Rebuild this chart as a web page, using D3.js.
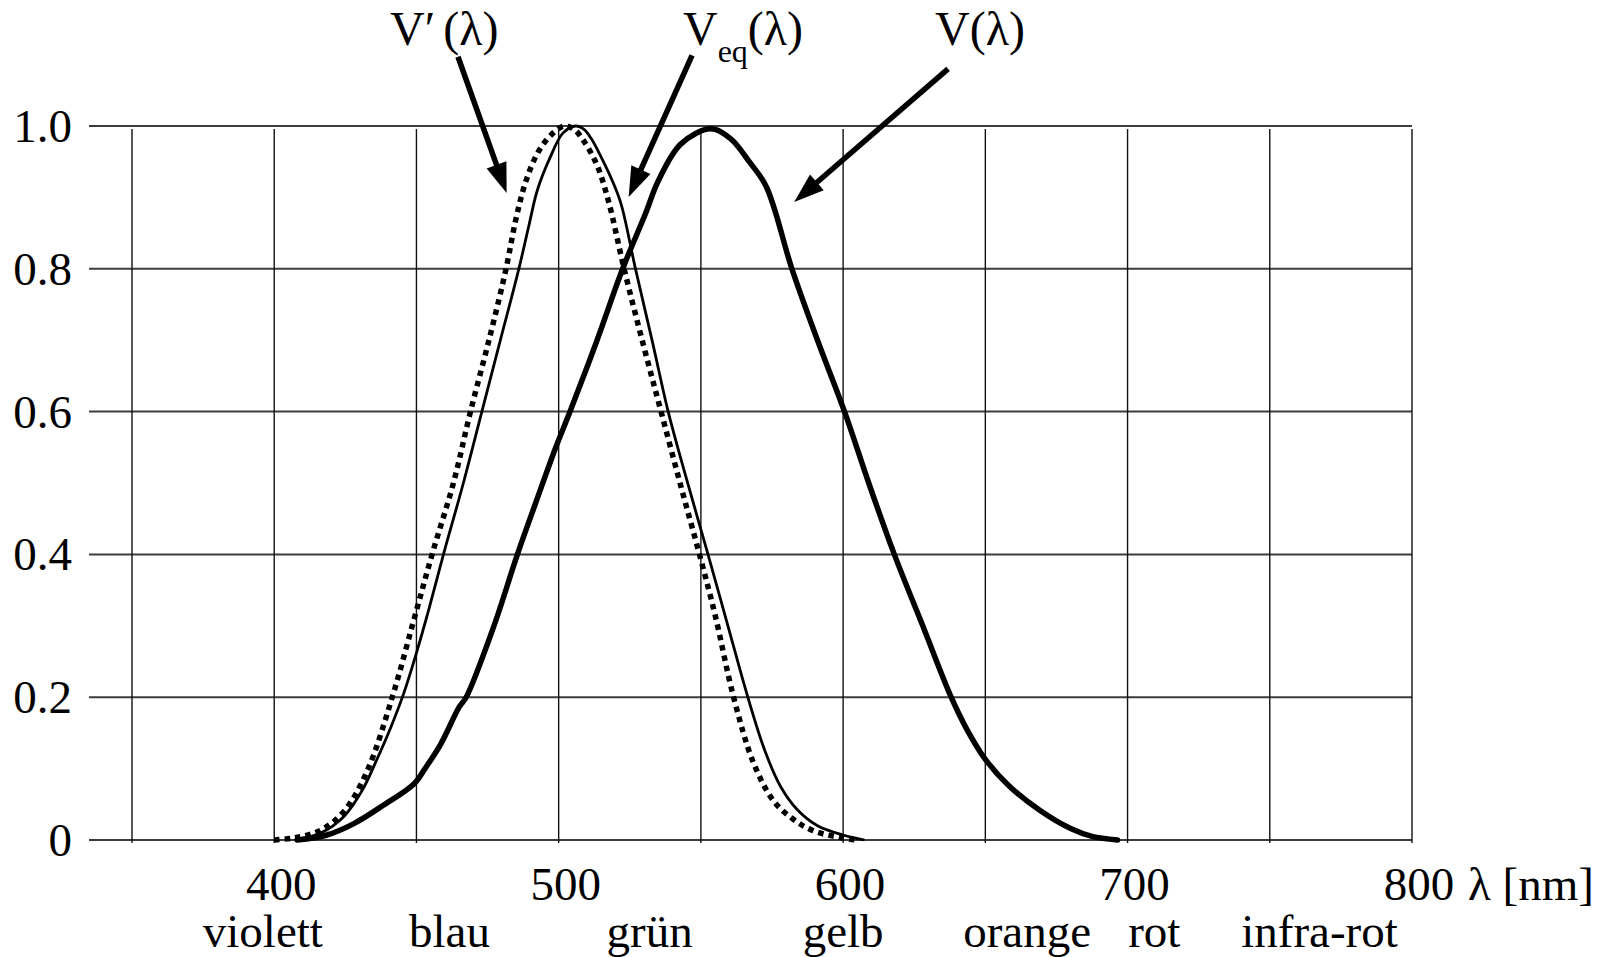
<!DOCTYPE html>
<html><head><meta charset="utf-8">
<script src="https://cdn.jsdelivr.net/npm/d3@7"></script>
<style>
html,body{margin:0;padding:0;background:#fff;}
svg{display:block;}
text{font-family:"Liberation Serif","Times New Roman",Times,serif;fill:#000;}
</style></head><body>
<svg id="chart" width="1624" height="957"></svg>
<script>
// ---- data ----
const xGridValues = [350,400,450,500,550,600,650,700,750,800];
const xTickValues = [400,500,600,700,800];
const xTickLabels = ["400","500","600","700","800"];
const yTickValues = [0,0.2,0.4,0.6,0.8,1.0];
const yTickLabels = ["0","0.2","0.4","0.6","0.8","1.0"];
const unitLabel = "λ [nm]";
const colourNames = ["violett","blau","grün","gelb","orange","rot","infra-rot"];
const colourCentres = [396,461.6,532,600,664.7,709.4,767.5];

// V'(λ) – scotopic (dotted)
const vPrimeLambda = [400,407,416,424.5,432.5,441.5,449,455.5,463,469,476,481.5,485,488.5,493,498,502,505.5,509,513.5,517.5,523,530,536,543,549.5,555,561.5,568.5,575.5,582.5,589.5,599.5,604.5];
const vPrimeValue  = [0,0.003,0.013,0.04,0.095,0.2,0.307,0.4,0.5,0.6,0.708,0.8,0.87,0.923,0.965,0.99,1.0,0.995,0.978,0.945,0.895,0.8,0.69,0.6,0.495,0.4,0.315,0.2,0.108,0.055,0.029,0.013,0.003,0];

// Veq(λ) (thin solid)
const vEqLambda = [408,416.5,424.5,431,436,441,445.5,450,454.5,459.5,466.5,473,479.5,486,489.5,492.5,497,501.5,506,509,511.5,514.5,519,522,527,533,538.5,544.5,552.5,559.5,566.5,572.5,578,584,591,600,607.5];
const vEqValue  = [0,0.01,0.033,0.07,0.112,0.158,0.205,0.262,0.325,0.4,0.5,0.6,0.7,0.8,0.86,0.91,0.956,0.99,1.0,0.995,0.982,0.96,0.922,0.89,0.8,0.697,0.6,0.512,0.4,0.3,0.2,0.125,0.075,0.042,0.02,0.007,0];

// V(λ) – photopic (thick solid)
const vLambda = [408,418.5,428,438.5,449,453,458.5,465,467.5,477,485.5,492,499,504,513.5,522.5,530.5,535,543,553.5,560.5,567,573,582,591,600.5,609,618,628,638,643.5,650,658,669,680,687.5,696.5];
const vValue  = [0,0.007,0.023,0.049,0.078,0.1,0.134,0.186,0.2,0.297,0.4,0.473,0.55,0.6,0.7,0.8,0.877,0.923,0.975,0.996,0.982,0.95,0.915,0.8,0.7,0.6,0.5,0.4,0.3,0.2,0.155,0.113,0.077,0.042,0.016,0.005,0];

// annotations (in data coordinates)
const annText     = ["V′(λ)","Veq(λ)","V(λ)"];
const annTextL    = [440.7,543.7,632.3];
const annTextV    = [1.1134,1.1134,1.1134];
const arrowTailL  = [464.6,546.9,636.9];
const arrowTailV  = [1.097,1.099,1.080];
const arrowTipL   = [481.7,524.6,582.8];
const arrowTipV   = [0.906,0.9006,0.8936];

// ---- drawing ----
const svg = d3.select("#chart");
const x = d3.scaleLinear().domain([350,800]).range([132,1412]);
const y = d3.scaleLinear().domain([0,1]).range([840,126]);
const FS = 47;

// horizontal grid lines
svg.append("g").selectAll("line").data(yTickValues).join("line")
  .attr("x1", 89).attr("x2", x(800))
  .attr("y1", d => y(d)).attr("y2", d => y(d))
  .attr("stroke", "#3c3c3c").attr("stroke-width", 2);

// vertical grid lines
svg.append("g").selectAll("line").data(xGridValues).join("line")
  .attr("x1", d => x(d)).attr("x2", d => x(d))
  .attr("y1", y(1) + 3).attr("y2", y(0) + 3)
  .attr("stroke", "#111").attr("stroke-width", 1.4);

// y tick labels
svg.append("g").selectAll("text").data(yTickValues).join("text")
  .attr("x", 72).attr("y", d => y(d) + 16)
  .attr("text-anchor", "end").attr("font-size", FS)
  .text((d,i) => yTickLabels[i]);

// x tick labels
svg.append("g").selectAll("text").data(xTickValues).join("text")
  .attr("x", d => x(d) + 7).attr("y", 900)
  .attr("text-anchor", "middle").attr("font-size", FS)
  .text((d,i) => xTickLabels[i]);

svg.append("text").attr("x", x(800) + 56).attr("y", 900)
  .attr("font-size", FS).text(unitLabel);

// colour names
svg.append("g").selectAll("text").data(colourCentres).join("text")
  .attr("x", d => x(d)).attr("y", 947)
  .attr("text-anchor", "middle").attr("font-size", FS)
  .text((d,i) => colourNames[i]);

// curves
const line = d3.line().x(d => x(d[0])).y(d => y(d[1])).curve(d3.curveCatmullRom.alpha(0.5));
const zip = (a,b) => a.map((v,i) => [v,b[i]]);

svg.append("path").datum(zip(vLambda, vValue))
  .attr("d", line).attr("fill", "none").attr("stroke", "#000")
  .attr("stroke-width", 5.5).attr("stroke-linejoin", "round").attr("stroke-linecap", "round");

svg.append("path").datum(zip(vEqLambda, vEqValue))
  .attr("d", line).attr("fill", "none").attr("stroke", "#000")
  .attr("stroke-width", 2.8).attr("stroke-linejoin", "round");

svg.append("path").datum(zip(vPrimeLambda, vPrimeValue))
  .attr("d", line).attr("fill", "none").attr("stroke", "#000")
  .attr("stroke-width", 5.5).attr("stroke-dasharray", "5.5,5");

// arrows
const arrows = arrowTailL.map((t,i) => ({x1:x(t), y1:y(arrowTailV[i]), x2:x(arrowTipL[i]), y2:y(arrowTipV[i])}));
const ag = svg.append("g");
arrows.forEach(a => {
  const dx = a.x2 - a.x1, dy = a.y2 - a.y1, L = Math.hypot(dx, dy);
  const ux = dx / L, uy = dy / L, px = -uy, py = ux;
  const headLen = 30, halfW = 10.5;
  const bx = a.x2 - ux * headLen, by = a.y2 - uy * headLen;
  ag.append("line").attr("x1", a.x1).attr("y1", a.y1)
    .attr("x2", bx + ux * 4).attr("y2", by + uy * 4)
    .attr("stroke", "#000").attr("stroke-width", 5.5);
  ag.append("path")
    .attr("d", `M${a.x2},${a.y2}L${bx + px*halfW},${by + py*halfW}L${bx - px*halfW},${by - py*halfW}Z`)
    .attr("fill", "#000");
});

// series labels
const lg = svg.append("g");
annText.forEach((t,i) => {
  const tx = lg.append("text").attr("x", x(annTextL[i])).attr("y", y(annTextV[i])).attr("font-size", 48);
  if (t === "Veq(λ)") {
    tx.append("tspan").text("V");
    tx.append("tspan").attr("font-size", 32).attr("dy", 17).text("eq");
    tx.append("tspan").attr("dy", -17).text("(λ)");
  } else if (t === "V′(λ)") {
    tx.append("tspan").text("V′");
    tx.append("tspan").attr("dx", 8).text("(λ)");
  } else {
    tx.text(t);
  }
});
</script>
</body></html>
